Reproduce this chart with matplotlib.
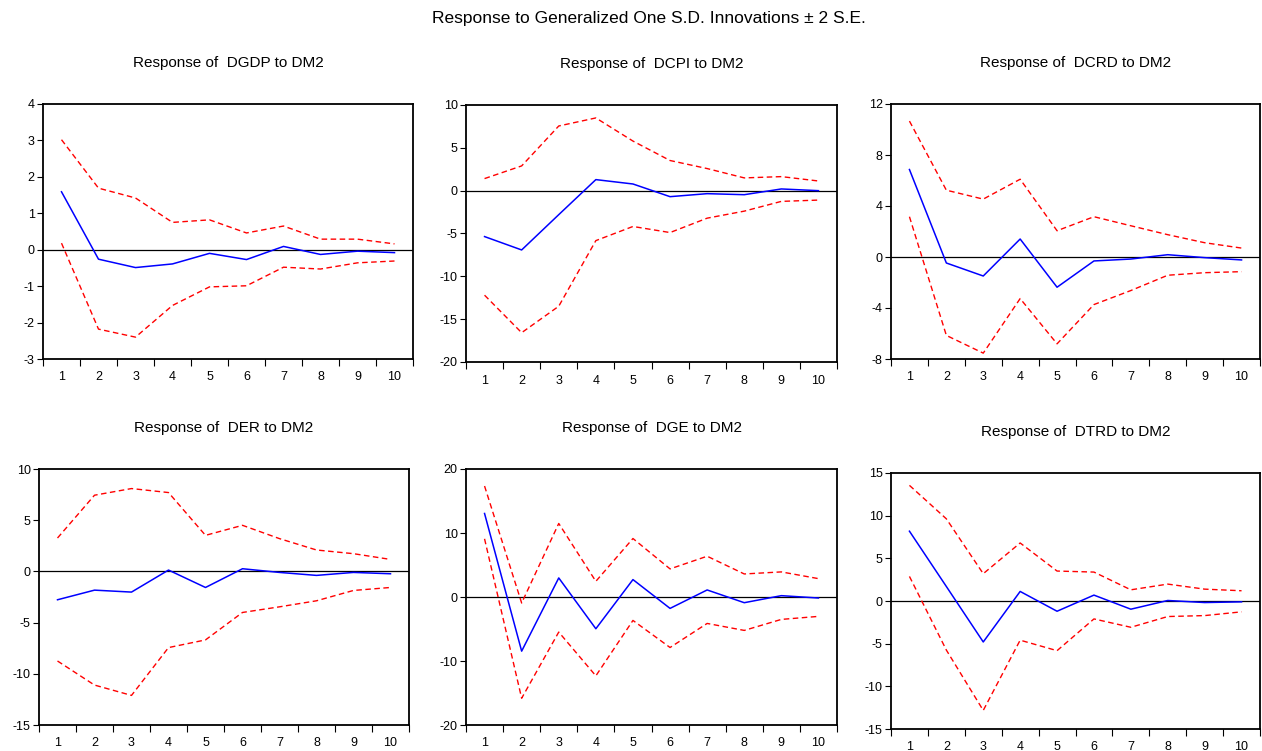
import matplotlib
matplotlib.use('Agg')
import matplotlib.pyplot as plt

plt.rcParams['font.family'] = ['Liberation Sans', 'DejaVu Sans']
plt.rcParams['axes.unicode_minus'] = False

W, H = 1262, 751

periods = [1, 2, 3, 4, 5, 6, 7, 8, 9, 10]

# DGDP
dgdp_resp = [1.59, -0.26, -0.49, -0.39, -0.10, -0.27, 0.09, -0.13, -0.04, -0.08]
dgdp_upper = [3.02, 1.69, 1.42, 0.75, 0.82, 0.46, 0.65, 0.29, 0.29, 0.16]
dgdp_lower = [0.18, -2.18, -2.40, -1.53, -1.02, -0.99, -0.48, -0.53, -0.36, -0.31]

# DCPI
dcpi_resp = [-5.36, -6.92, -2.8, 1.29, 0.78, -0.70, -0.35, -0.47, 0.2, 0.0]
dcpi_upper = [1.41, 2.89, 7.55, 8.49, 5.79, 3.52, 2.58, 1.49, 1.64, 1.13]
dcpi_lower = [-12.2, -16.58, -13.49, -5.83, -4.18, -4.89, -3.21, -2.39, -1.25, -1.10]

# DCRD
dcrd_resp = [6.86, -0.47, -1.49, 1.41, -2.37, -0.31, -0.16, 0.18, -0.05, -0.23]
dcrd_upper = [10.66, 5.24, 4.54, 6.10, 2.06, 3.16, 2.45, 1.75, 1.12, 0.70]
dcrd_lower = [3.16, -6.15, -7.54, -3.26, -6.81, -3.73, -2.63, -1.43, -1.23, -1.15]

# DER
der_resp = [-2.77, -1.83, -2.02, 0.13, -1.57, 0.26, -0.10, -0.39, -0.10, -0.23]
der_upper = [3.26, 7.44, 8.09, 7.70, 3.52, 4.50, 3.20, 2.09, 1.73, 1.17]
der_lower = [-8.75, -11.1, -12.11, -7.44, -6.69, -4.01, -3.46, -2.87, -1.86, -1.57]

# DGE
dge_resp = [13.05, -8.46, 2.98, -4.96, 2.72, -1.78, 1.10, -0.89, 0.21, -0.16]
dge_upper = [17.34, -0.94, 11.49, 2.45, 9.14, 4.39, 6.37, 3.60, 3.92, 2.87]
dge_lower = [9.09, -15.82, -5.48, -12.32, -3.66, -7.89, -4.13, -5.22, -3.50, -3.03]

# DTRD
dtrd_resp = [8.18, 1.7, -4.80, 1.12, -1.20, 0.69, -0.96, 0.06, -0.18, -0.10]
dtrd_upper = [13.55, 9.63, 3.2, 6.80, 3.51, 3.39, 1.31, 1.98, 1.39, 1.20]
dtrd_lower = [2.88, -5.75, -12.82, -4.59, -5.82, -2.10, -3.08, -1.82, -1.71, -1.27]

panels = [
    ('Response of  DGDP to DM2', dgdp_resp, dgdp_upper, dgdp_lower,
     (-3, 4), [-3, -2, -1, 0, 1, 2, 3, 4], (43, 413, 104, 359)),
    ('Response of  DCPI to DM2', dcpi_resp, dcpi_upper, dcpi_lower,
     (-20, 10), [-20, -15, -10, -5, 0, 5, 10], (466, 837, 105, 362)),
    ('Response of  DCRD to DM2', dcrd_resp, dcrd_upper, dcrd_lower,
     (-8, 12), [-8, -4, 0, 4, 8, 12], (891, 1260, 104, 359)),
    ('Response of  DER to DM2', der_resp, der_upper, der_lower,
     (-15, 10), [-15, -10, -5, 0, 5, 10], (39, 409, 469, 725)),
    ('Response of  DGE to DM2', dge_resp, dge_upper, dge_lower,
     (-20, 20), [-20, -10, 0, 10, 20], (466, 837, 469, 725)),
    ('Response of  DTRD to DM2', dtrd_resp, dtrd_upper, dtrd_lower,
     (-15, 15), [-15, -10, -5, 0, 5, 10, 15], (891, 1260, 473, 729)),
]

fig = plt.figure(figsize=(W / 100, H / 100), dpi=100)

for title, resp, upper, lower, ylim, yticks, (x0, x1, y0, y1) in panels:
    ax = fig.add_axes([x0 / W, 1 - y1 / H, (x1 - x0) / W, (y1 - y0) / H])
    ax.axhline(0, color='black', lw=0.9)
    ax.plot(periods, upper, color='red', lw=1.0, dashes=(4, 2.5))
    ax.plot(periods, lower, color='red', lw=1.0, dashes=(4, 2.5))
    ax.plot(periods, resp, color='blue', lw=1.1)
    ax.set_xlim(0.5, 10.5)
    ax.set_ylim(*ylim)
    ax.set_yticks(yticks)
    # ticks sit between periods, labels under each period
    ax.set_xticks([p + 0.5 for p in [0] + periods])
    ax.set_xticks(periods, minor=True)
    ax.set_xticklabels([''] * 11)
    ax.set_xticklabels([str(p) for p in periods], minor=True)
    ax.tick_params(axis='x', which='major', direction='out', length=5, width=0.8, pad=2)
    ax.tick_params(axis='x', which='minor', length=0, pad=9, labelsize=9)
    ax.tick_params(axis='y', direction='out', length=4, width=0.8, pad=2, labelsize=9)
    for s in ax.spines.values():
        s.set_linewidth(1.3)
    fig.text((x0 + x1) / 2 / W, 1 - (y0 - 41) / H, title,
             ha='center', va='center', fontsize=11)

fig.text(649 / W, 1 - 18 / H, 'Response to Generalized One S.D. Innovations \u00b1 2 S.E.',
         ha='center', va='center', fontsize=12.5)

fig.savefig('out.png', dpi=100)
